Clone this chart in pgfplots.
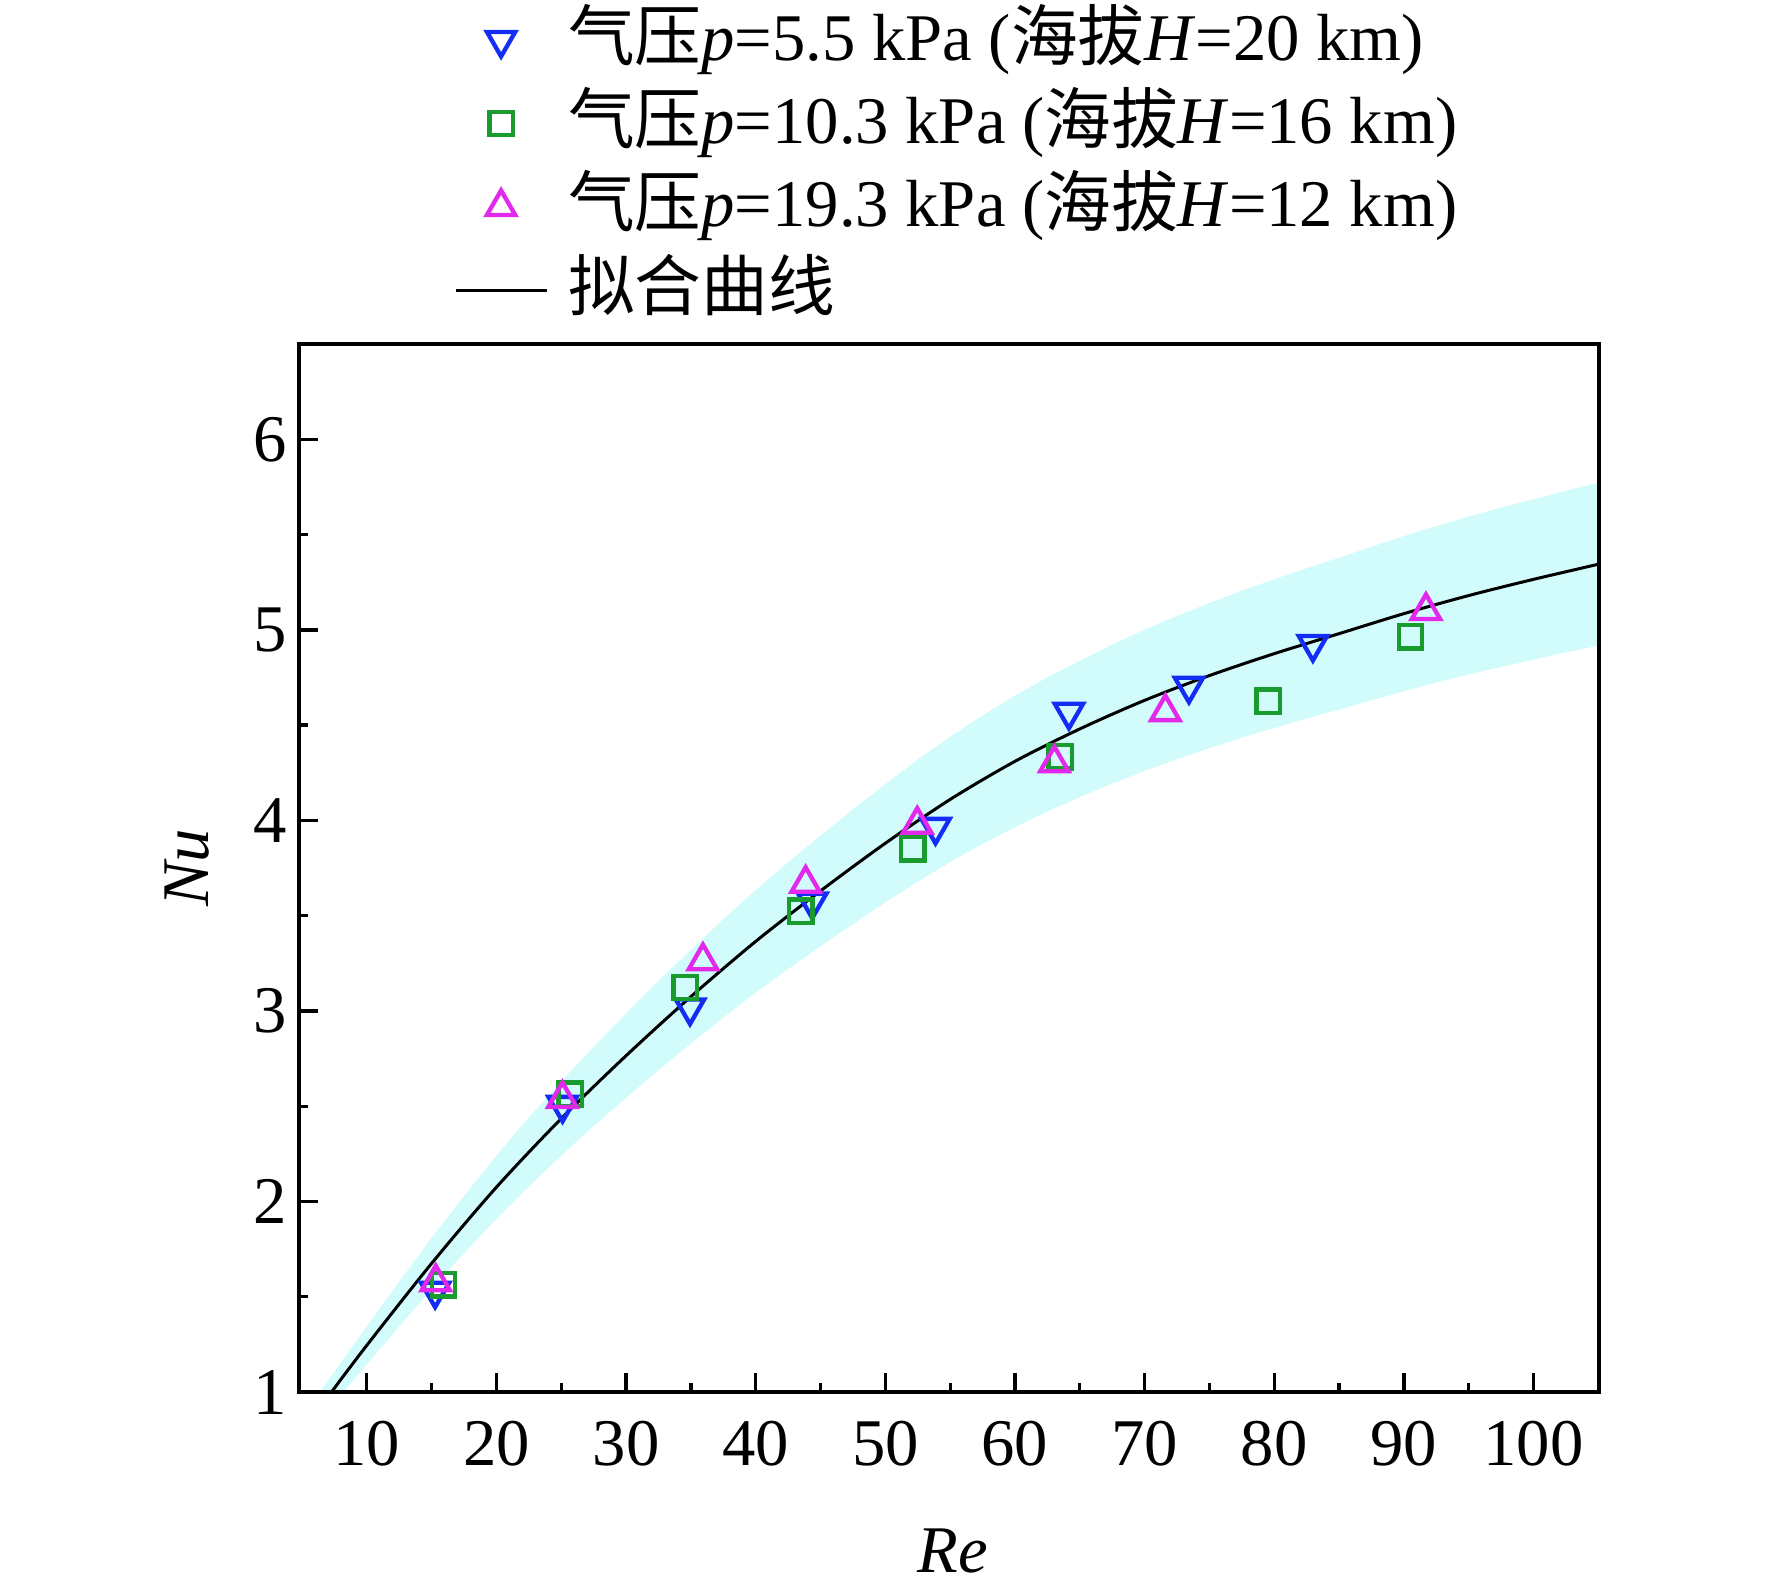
\documentclass[border=0pt]{standalone}
\usepackage{fontspec}
\setmainfont{Liberation Serif}
\newfontfamily\cjk{Noto Sans CJK SC}
\usepackage{pgfplots}
\pgfplotsset{compat=1.18}
\definecolor{mblue}{RGB}{20,45,245}
\definecolor{mgreen}{RGB}{25,155,45}
\definecolor{mmag}{RGB}{225,40,235}
\definecolor{bandc}{RGB}{210,251,251}
\newcommand{\fs}{\fontsize{20}{24}\selectfont}
\begin{document}
\begin{tikzpicture}
\useasboundingbox (-89.7pt,-57.3pt) rectangle (441.9pt,417.6pt);
\begin{axis}[
 at={(0pt,0pt)}, anchor=south west,
 scale only axis, width=390pt, height=314.4pt,
 xmin=4.77, xmax=105.05, ymin=1, ymax=6.5,
 xtick={10,20,...,100}, ytick={1,2,...,6},
 minor x tick num=1, minor y tick num=1,
 xtick pos=bottom, ytick pos=left,
 tick align=inside,
 major tick length=5.7pt, minor tick length=2.8pt,
 tick style={black, line width=1pt},
 axis line style={line width=1.3pt},
 axis on top,
 /pgf/number format/assume math mode=true,
 tick label style={font=\fs},
 xticklabel style={yshift=-5.2pt},
 xlabel={\textit{Re}}, ylabel={\textit{Nu}},
 every axis x label/.style={at={(axis description cs:0.503,-0.152)}, anchor=center, font=\fs},
 every axis y label/.style={at={(axis description cs:-0.086,0.5)}, rotate=90, anchor=center, font=\fs},
 legend image code/.code={\draw[mark repeat=2,mark phase=2,#1] plot coordinates {(0pt,0pt) (13.65pt,0pt) (27.3pt,0pt)};},
 legend style={at={(axis description cs:0.1193,1.325)}, anchor=north west, draw=none, fill=none, inner sep=0pt, outer sep=0pt, font=\fs, row sep=3pt, nodes={inner sep=0pt, text height=17pt, text depth=5pt}, /tikz/every odd column/.append style={column sep=6.0pt}},
 legend cell align=left,
]
\addplot[fill=bandc, draw=none, forget plot] coordinates {
(5,0.864) (7.5,1.107) (10,1.345) (12.5,1.579) (15,1.809) (17.5,2.029) (20,2.241) (22.5,2.441) (25,2.630) (27.5,2.812) (30,2.986) (32.5,3.157) (35,3.321) (37.5,3.481) (40,3.634) (42.5,3.780) (45,3.920) (47.5,4.058) (50,4.190) (52.5,4.319) (55,4.439) (57.5,4.551) (60,4.655) (62.5,4.751) (65,4.838) (67.5,4.923) (70,5.000) (72.5,5.073) (75,5.141) (77.5,5.206) (80,5.265) (82.5,5.323) (85,5.378) (87.5,5.436) (90,5.492) (92.5,5.545) (95,5.594) (97.5,5.642) (100,5.686) (102.5,5.730) (106,5.789)
(106,4.931) (102.5,4.882) (100,4.844) (97.5,4.806) (95,4.766) (92.5,4.723) (90,4.678) (87.5,4.630) (85,4.582) (82.5,4.535) (80,4.485) (77.5,4.434) (75,4.379) (72.5,4.321) (70,4.260) (67.5,4.193) (65,4.122) (62.5,4.047) (60,3.965) (57.5,3.877) (55,3.781) (52.5,3.679) (50,3.570) (47.5,3.456) (45,3.340) (42.5,3.220) (40,3.096) (37.5,2.965) (35,2.829) (32.5,2.689) (30,2.544) (27.5,2.396) (25,2.240) (22.5,2.079) (20,1.909) (17.5,1.729) (15,1.541) (12.5,1.345) (10,1.145) (7.5,0.943) (5,0.736)
} -- cycle;
\addplot[only marks, mark=triangle, mark size=4.9pt, mark options={rotate=180, draw=mblue, line width=1.3pt, fill=none}] coordinates {
(15.27,1.531) (25.10,2.506) (34.93,3.017) (44.36,3.573) (53.87,3.965) (64.16,4.569) (73.42,4.706) (82.98,4.925)
};
\addlegendentry{{\cjk 气压}\textit{p}=5.5 kPa ({\cjk 海拔}\textit{H}=20 km)}
\addplot[only marks, mark=square, mark size=3.5pt, mark options={draw=mgreen, line width=1.3pt, fill=none}] coordinates {
(15.91,1.563) (25.68,2.563) (34.57,3.123) (43.49,3.523) (52.12,3.851) (63.48,4.333) (79.52,4.625) (90.50,4.963)
};
\addlegendentry{{\cjk 气压}\textit{p}=10.3 kPa ({\cjk 海拔}\textit{H}=16 km)}
\addplot[only marks, mark=triangle, mark size=4.9pt, mark options={draw=mmag, line width=1.3pt, fill=none}] coordinates {
(15.32,1.577) (25.09,2.539) (35.93,3.262) (43.85,3.668) (52.46,3.978) (63.04,4.301) (71.60,4.569) (91.70,5.100)
};
\addlegendentry{{\cjk 气压}\textit{p}=19.3 kPa ({\cjk 海拔}\textit{H}=12 km)}
\addplot[black, line width=0.9pt, smooth, no marks] coordinates {
(5,0.80) (6,0.885) (7,0.975) (10,1.245) (15,1.675) (20,2.075) (25,2.435) (30,2.765) (35,3.075) (40,3.365) (45,3.63) (50,3.88) (55,4.11) (60,4.31) (65,4.48) (70,4.63) (75,4.76) (80,4.875) (85,4.98) (90,5.085) (95,5.18) (100,5.265) (106,5.36)
};
\addlegendentry{{\cjk 拟合曲线}}
\end{axis}
\end{tikzpicture}
\end{document}
